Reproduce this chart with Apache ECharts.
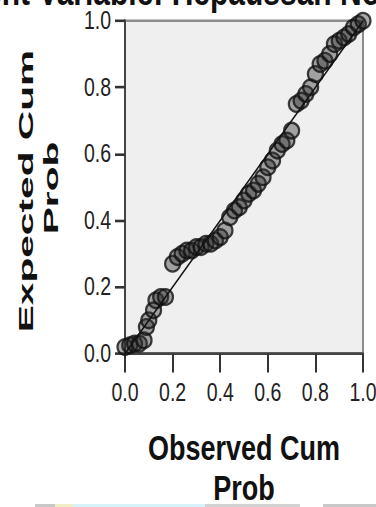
<!DOCTYPE html>
<html>
<head>
<meta charset="utf-8">
<script src="https://cdn.jsdelivr.net/npm/echarts@6/dist/echarts.min.js"></script>
<style>
  html, body { margin: 0; padding: 0; background: #fff; }
  body { width: 376px; height: 507px; }
  /* the source screenshot is stretched vertically, so draw at 376x390 and stretch by 1.3 */
  #pp-chart-container {
    width: 376px;
    height: 390px;
    transform: scaleY(1.3);
    transform-origin: 0 0;
  }
</style>
</head>
<body>
<div id="pp-chart-container"></div>
<script>
// Normal P-P plot of regression standardized residual
const titleText = 'Dependent Variable: Hepaussan Normal';
const xAxisTitle = 'Observed Cum\nProb';
const yAxisTitleLines = ['Expected Cum', 'Prob'];
const tickLabels = ['0.0', '0.2', '0.4', '0.6', '0.8', '1.0'];

const observedCumProb = [
  0.00, 0.02, 0.04, 0.06, 0.08, 0.09, 0.10, 0.12, 0.13, 0.15,
  0.17, 0.20, 0.22, 0.24, 0.26, 0.28, 0.30, 0.32, 0.34, 0.36,
  0.38, 0.40, 0.42, 0.44, 0.46, 0.48, 0.50, 0.52, 0.54, 0.56,
  0.58, 0.60, 0.62, 0.64, 0.66, 0.68, 0.70, 0.72, 0.74, 0.76,
  0.78, 0.80, 0.82, 0.84, 0.86, 0.88, 0.90, 0.92, 0.94, 0.96,
  0.98, 1.00,
];
const expectedCumProb = [
  0.02, 0.025, 0.03, 0.03, 0.04, 0.08, 0.10, 0.13, 0.16, 0.17,
  0.17, 0.27, 0.29, 0.30, 0.31, 0.31, 0.32, 0.32, 0.33, 0.33,
  0.34, 0.35, 0.37, 0.41, 0.43, 0.44, 0.46, 0.48, 0.49, 0.51,
  0.53, 0.56, 0.58, 0.61, 0.63, 0.64, 0.67, 0.75, 0.76, 0.78,
  0.80, 0.84, 0.87, 0.88, 0.90, 0.93, 0.94, 0.95, 0.96, 0.98,
  0.99, 1.00,
];
const referenceLine = [[0, 0], [1, 1]];

const points = observedCumProb.map((x, i) => [x, expectedCumProb[i]]);
const font = '"Liberation Sans", Arial, sans-serif';

const chart = echarts.init(document.getElementById('pp-chart-container'), null, { renderer: 'svg' });
chart.setOption({
  animation: false,
  backgroundColor: '#fff',
  grid: {
    left: 125,
    top: 16,
    right: 13,
    bottom: 118,
    show: true,
    backgroundColor: '#efefef',
    borderColor: '#8c8c8c',
    borderWidth: 2,
    containLabel: false,
    outerBoundsMode: 'none',
  },
  xAxis: {
    type: 'value',
    min: 0,
    max: 1,
    interval: 0.2,
    name: xAxisTitle,
    nameLocation: 'middle',
    nameGap: 57,
    nameTextStyle: {
      fontFamily: font,
      fontWeight: 'bold',
      fontSize: 27,
      lineHeight: 31,
      color: '#111',
    },
    axisLine: { show: true, lineStyle: { color: '#444', width: 2 } },
    axisTick: { show: true, length: 14.5, lineStyle: { color: '#333', width: 2 } },
    axisLabel: {
      margin: 20,
      fontFamily: font,
      fontSize: 19.5,
      color: '#222',
      formatter: (v) => tickLabels[Math.round(v * 5)],
    },
    splitLine: { show: false },
  },
  yAxis: {
    type: 'value',
    min: 0,
    max: 1,
    interval: 0.2,
    axisLine: { show: true, lineStyle: { color: '#444', width: 2 } },
    axisTick: { show: true, length: 10, lineStyle: { color: '#333', width: 2 } },
    axisLabel: {
      margin: 14,
      fontFamily: font,
      fontSize: 19.5,
      color: '#222',
      formatter: (v) => tickLabels[Math.round(v * 5)],
    },
    splitLine: { show: false },
  },
  graphic: [
    {
      type: 'text',
      x: -125,
      y: -6.4,
      style: {
        text: titleText,
        font: 'bold 30px ' + font,
        fill: '#111',
        textAlign: 'left',
        textVerticalAlign: 'middle',
      },
    },
    {
      type: 'text',
      x: 26,
      y: 147,
      rotation: Math.PI / 2,
      scaleX: 1.49,
      style: {
        text: yAxisTitleLines[0],
        font: 'bold 21px ' + font,
        fill: '#111',
        textAlign: 'center',
        textVerticalAlign: 'middle',
      },
    },
    {
      type: 'text',
      x: 51,
      y: 144.6,
      rotation: Math.PI / 2,
      scaleX: 1.49,
      style: {
        text: yAxisTitleLines[1],
        font: 'bold 21px ' + font,
        fill: '#111',
        textAlign: 'center',
        textVerticalAlign: 'middle',
      },
    },
    // thin coloured strip left over at the very bottom of the screenshot
    { type: 'rect', shape: { x: 35, y: 387.7, width: 20, height: 2.3 }, style: { fill: '#c8c8c8' } },
    { type: 'rect', shape: { x: 55, y: 387.7, width: 18, height: 2.3 }, style: { fill: '#f0eec4' } },
    { type: 'rect', shape: { x: 73, y: 387.7, width: 132, height: 2.3 }, style: { fill: '#d6f3fa' } },
    { type: 'rect', shape: { x: 205, y: 387.7, width: 95, height: 2.3 }, style: { fill: '#d2d2d2' } },
    { type: 'rect', shape: { x: 323, y: 387.7, width: 53, height: 2.3 }, style: { fill: '#c8c8c8' } },
  ],
  series: [
    {
      type: 'line',
      data: referenceLine,
      symbol: 'none',
      silent: true,
      lineStyle: { color: '#111', width: 1.3 },
      z: 3,
    },
    {
      type: 'scatter',
      data: points,
      symbol: 'circle',
      symbolSize: [15, 12],
      itemStyle: {
        color: 'rgba(45, 45, 45, 0.5)',
        borderColor: '#111',
        borderWidth: 2,
      },
      z: 2,
    },
  ],
});
</script>
</body>
</html>
